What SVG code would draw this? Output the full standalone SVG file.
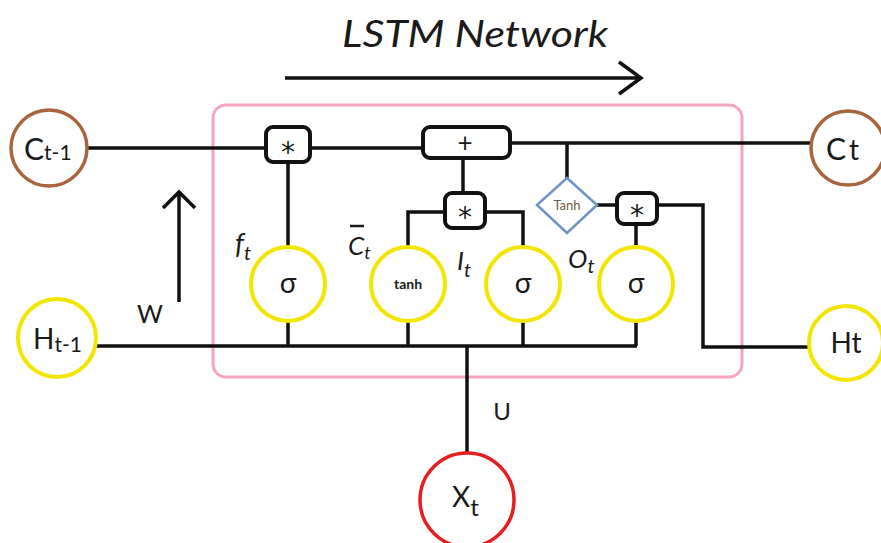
<svg xmlns="http://www.w3.org/2000/svg" width="881" height="543" viewBox="0 0 881 543">
<defs>
<style>
.ln{fill:none;stroke:#111;stroke-width:3.5;stroke-linejoin:miter;stroke-linecap:butt}
.op{fill:#fff;stroke:#111;stroke-width:4}
.yc{fill:#fff;stroke:#f2e600;stroke-width:4}
.bc{fill:#fff;stroke:#a8643c;stroke-width:3.5}
.rc{fill:#fff;stroke:#e61e1e;stroke-width:3.5}
.t{font-family:Lato,"Open Sans","Liberation Sans",sans-serif;fill:#1a1a1a}
.it{font-family:Lato,"Open Sans","Liberation Sans",sans-serif;font-style:italic;fill:#1a1a1a}
.ast{font-family:"DejaVu Sans",sans-serif;fill:#1a1a1a;font-size:28px;text-anchor:middle}
</style>
</defs>
<rect width="881" height="543" fill="#fff"/>
<g id="cell"><rect x="213" y="105" width="529" height="272" rx="13" fill="none" stroke="#f6a3bd" stroke-width="3"/></g>
<g id="title"><text class="it" x="475" y="47" font-size="36" text-anchor="middle" textLength="266" lengthAdjust="spacingAndGlyphs">LSTM Network</text></g>
<g id="connectors">
<path class="ln" d="M88 148H266M310 148H423M510 143H810M567 143V178M597 205H617M657 205H703V347H808"/>
<path class="ln" d="M288 163V247M463 158V193M445 212H408V247M485 212H523V247M636 224V247"/>
<path class="ln" d="M96 346H637M288 321V346M408 321V346M523 321V346M636 321V346M467 346V453"/>
<path class="ln" d="M179 302V192M163 208L179 192L195 208"/>
<path class="ln" d="M285 78H641M619 62L641 78L619 94"/>
</g>
<g id="Ct1"><circle class="bc" cx="49" cy="148" r="38"/><text class="t" x="24" y="160" font-size="30">C<tspan font-size="21">t-1</tspan></text></g>
<g id="Ct"><circle class="bc" cx="848" cy="148" r="37"/><text class="t" x="826" y="160" font-size="30">C<tspan dx="3" font-size="28">t</tspan></text></g>
<g id="Ht1"><circle class="yc" cx="57" cy="338" r="39"/><text class="t" x="33" y="349" font-size="28">H<tspan font-size="21" dy="3">t-1</tspan></text></g>
<g id="Ht"><circle class="yc" cx="846" cy="343" r="37"/><text class="t" x="846" y="353" font-size="28" text-anchor="middle">Ht</text></g>
<g id="Xt"><circle class="rc" cx="467" cy="500" r="47"/><text class="t" x="452" y="507" font-size="28">X<tspan font-size="24" dy="9">t</tspan></text></g>
<g id="mul1"><rect class="op" x="266" y="127" width="44" height="35" rx="7"/><text class="ast" x="288" y="162">*</text></g>
<g id="add"><rect class="op" x="423" y="127" width="87" height="31" rx="7"/><text class="t" x="465" y="152" font-size="26" text-anchor="middle">+</text></g>
<g id="mul2"><rect class="op" x="445" y="193" width="40" height="35" rx="7"/><text class="ast" x="465" y="227">*</text></g>
<g id="mul3"><rect class="op" x="617" y="193" width="40" height="31" rx="7"/><text class="ast" x="637" y="225">*</text></g>
<g id="tanhd"><polygon points="567,178 597,205 567,233 537,205" fill="#fff" stroke="#6f93c4" stroke-width="2.5"/><text class="t" x="567" y="210" font-size="13" style="fill:#6b5b42" text-anchor="middle">Tanh</text></g>
<g id="sig_f"><circle class="yc" cx="288" cy="284" r="37"/><text class="t" x="288" y="293" font-size="28" text-anchor="middle">σ</text></g>
<g id="tanh_c"><circle class="yc" cx="408" cy="284" r="37"/><text class="t" x="408" y="289" font-size="14" font-weight="bold" text-anchor="middle">tanh</text></g>
<g id="sig_i"><circle class="yc" cx="523" cy="284" r="37"/><text class="t" x="523" y="293" font-size="28" text-anchor="middle">σ</text></g>
<g id="sig_o"><circle class="yc" cx="636" cy="284" r="37"/><text class="t" x="636" y="293" font-size="28" text-anchor="middle">σ</text></g>
<g id="labels">
<text class="it" x="235" y="254" font-size="28">f<tspan font-size="20" dy="6">t</tspan></text>
<text class="it" x="348" y="255" font-size="26">C<tspan font-size="18" dy="4">t</tspan></text>
<path d="M350 226H364" stroke="#1a1a1a" stroke-width="2.5"/>
<text class="it" x="457" y="270" font-size="26">I<tspan font-size="20" dy="7">t</tspan></text>
<text class="it" x="568" y="268" font-size="26">O<tspan font-size="20" dy="5">t</tspan></text>
<text class="t" x="150" y="323" font-size="25" text-anchor="middle">W</text>
<text class="t" x="502" y="420" font-size="24" text-anchor="middle">U</text>
</g>
</svg>
